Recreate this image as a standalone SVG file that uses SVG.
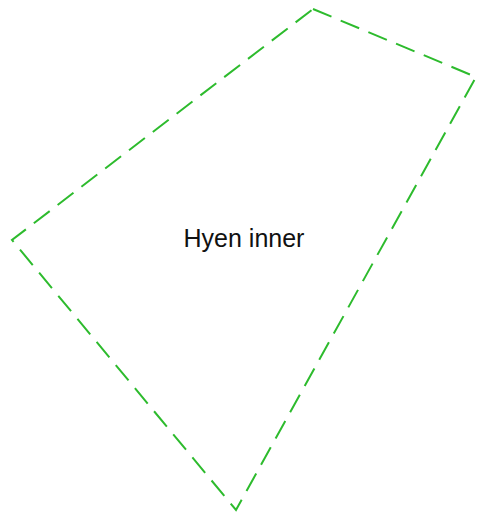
<svg xmlns="http://www.w3.org/2000/svg" width="478" height="521" viewBox="0 0 478 521">
<style>
.shape{fill:none;stroke:#2dbb2d;stroke-width:2;stroke-dasharray:20 10;}
.lbl{font-family:"Liberation Sans",Arial,sans-serif;font-size:25px;fill:#111;text-anchor:middle;}
</style>
<rect width="478" height="521" fill="#fff"/>
<g id="hyen-inner">
<polygon class="shape" points="313,9 476,77 236,510 12,240"/>
<text class="lbl" x="244" y="247">Hyen inner</text>
</g>
<g id="connectors"></g>
</svg>
